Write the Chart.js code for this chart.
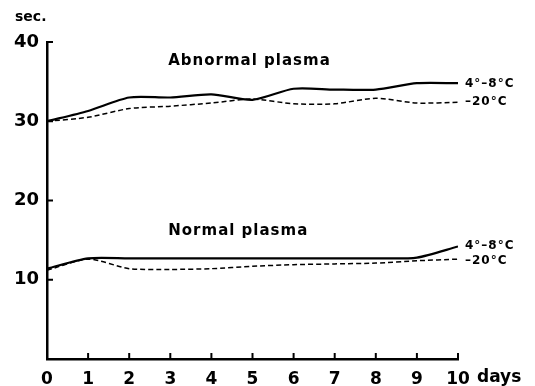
<!DOCTYPE html>
<html>
<head>
<meta charset="utf-8">
<script src="https://cdn.jsdelivr.net/npm/chart.js@4/dist/chart.umd.min.js"></script>
<style>
  html, body { margin: 0; padding: 0; background: #fff; }
  #wrap { width: 535px; height: 386px; position: relative; }
</style>
</head>
<body>
<div id="wrap"><canvas id="plasma-chart"></canvas></div>
<script>
// clotting time (sec.)
var days = [0, 1, 2, 3, 4, 5, 6, 7, 8, 9, 10];
var abnormalWarm = [30, 31.3, 33, 33, 33.4, 32.7, 34.1, 34, 34, 34.8, 34.8];
var abnormalFrozen = [30, 30.5, 31.6, 31.9, 32.3, 32.8, 32.2, 32.2, 32.9, 32.3, 32.4];
var normalWarm = [11.4, 12.7, 12.7, 12.7, 12.7, 12.7, 12.7, 12.7, 12.7, 12.8, 14.2];
var normalFrozen = [11.2, 12.6, 11.4, 11.3, 11.4, 11.7, 11.9, 12.0, 12.1, 12.4, 12.6];
var yTicks = [10, 20, 30, 40];

function pts(vals) {
  return days.map(function (d, i) { return { x: d, y: vals[i] }; });
}

var font = "'DejaVu Sans', sans-serif";

var textPlugin = {
  id: 'figureText',
  afterDraw: function (chart) {
    var c = chart.ctx, x = chart.scales.x, y = chart.scales.y;
    c.save();
    // inward tick marks, like the original
    c.strokeStyle = '#000';
    c.lineWidth = 2;
    days.forEach(function (d) {
      var px = x.getPixelForValue(d);
      c.beginPath(); c.moveTo(px, y.bottom); c.lineTo(px, y.bottom - 6); c.stroke();
    });
    yTicks.forEach(function (v) {
      var py = y.getPixelForValue(v);
      c.beginPath(); c.moveTo(x.left, py); c.lineTo(x.left + 6, py); c.stroke();
    });

    c.fillStyle = '#000';
    c.textBaseline = 'middle';
    c.textAlign = 'left';
    c.letterSpacing = '0px';
    c.font = 'bold 14px ' + font;
    c.fillText('sec.', 15, 17);
    c.font = 'bold 15px ' + font;
    c.letterSpacing = '1px';
    c.fillText('Abnormal plasma', x.getPixelForValue(2.95), y.getPixelForValue(37.6));
    c.fillText('Normal plasma', x.getPixelForValue(2.95), y.getPixelForValue(16.2));
    c.font = 'bold 12px ' + font;
    c.letterSpacing = '1px';
    var lx = x.getPixelForValue(10) + 7;
    c.fillText('4\u00b0\u20138\u00b0C', lx, y.getPixelForValue(34.7));
    c.fillText('\u201320\u00b0C', lx, y.getPixelForValue(32.4));
    c.fillText('4\u00b0\u20138\u00b0C', lx, y.getPixelForValue(14.3));
    c.fillText('\u201320\u00b0C', lx, y.getPixelForValue(12.4));
    c.letterSpacing = '0px';
    c.font = 'bold 17px ' + font;
    c.fillText('days', x.getPixelForValue(10) + 19, x.bottom - 8);
    c.restore();
  }
};

var ctx = document.getElementById('plasma-chart').getContext('2d');
var myChart = new Chart(ctx, {
  type: 'line',
  data: {
    datasets: [
      { label: 'Abnormal 4-8', data: pts(abnormalWarm), borderColor: '#000', borderWidth: 2.2 },
      { label: 'Abnormal -20', data: pts(abnormalFrozen), borderColor: '#000', borderWidth: 1.5, borderDash: [5, 3] },
      { label: 'Normal 4-8', data: pts(normalWarm), borderColor: '#000', borderWidth: 2.2 },
      { label: 'Normal -20', data: pts(normalFrozen), borderColor: '#000', borderWidth: 1.5, borderDash: [5, 3] }
    ]
  },
  options: {
    responsive: true,
    maintainAspectRatio: false,
    animation: false,
    layout: { padding: { left: 0, right: 77, top: 42, bottom: 0 } },
    elements: { point: { radius: 0 }, line: { tension: 0.25 } },
    plugins: { legend: { display: false }, tooltip: { enabled: false } },
    scales: {
      x: {
        type: 'linear', min: 0, max: 10,
        afterFit: function (s) { s.height = 27; },
        border: { color: '#000', width: 2.5 },
        grid: { display: false },
        ticks: { stepSize: 1, color: '#000', padding: 2, font: { family: font, size: 17, weight: 'bold' } }
      },
      y: {
        min: 0, max: 40,
        afterFit: function (s) { s.width = 47; },
        afterBuildTicks: function (s) { s.ticks = yTicks.map(function (v) { return { value: v }; }); },
        border: { color: '#000', width: 2.5 },
        grid: { display: false },
        ticks: { color: '#000', padding: 0, font: { family: font, size: 18, weight: 'bold' } }
      }
    }
  },
  plugins: [textPlugin]
});
</script>
</body>
</html>
